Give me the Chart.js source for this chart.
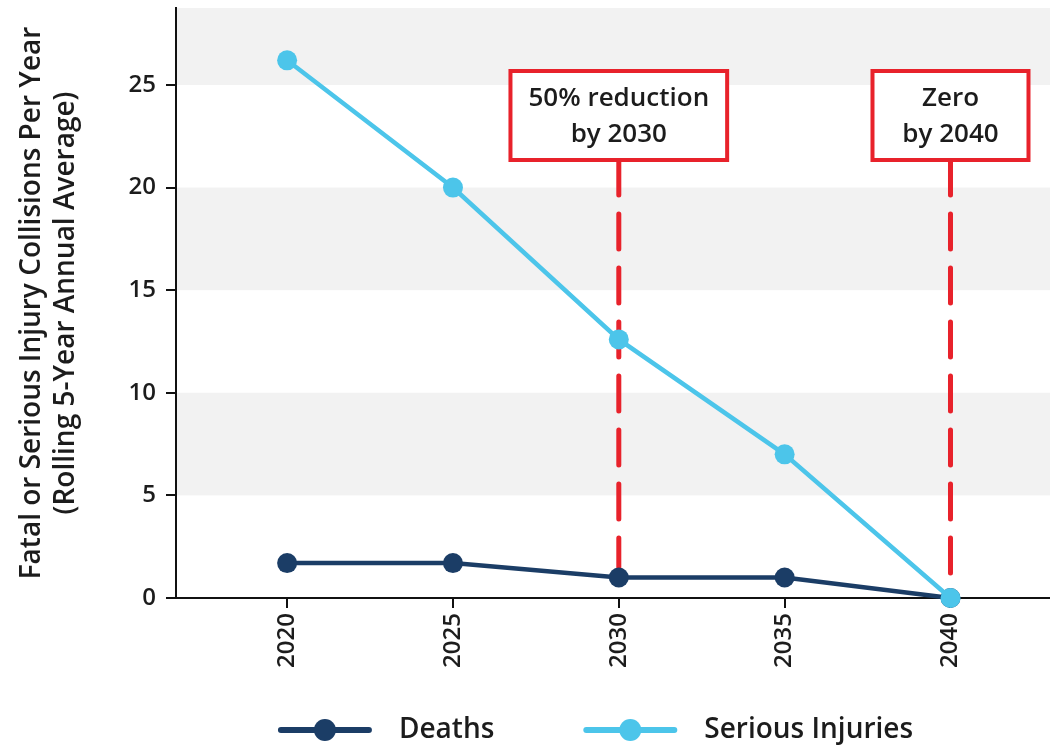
<!DOCTYPE html>
<html>
<head>
<meta charset="utf-8">
<script src="https://cdn.jsdelivr.net/npm/chart.js@4.4.0/dist/chart.umd.min.js"></script>
<style>
  html, body { margin: 0; padding: 0; background: #fff; }
  #wrap { width: 1050px; height: 748px; }
</style>
</head>
<body>
<div id="wrap"><canvas id="c" width="1050" height="748"></canvas></div>
<script>
// Years on the horizontal axis and the two series plotted against them
const years = [2020, 2025, 2030, 2035, 2040];
const deaths = [1.7, 1.7, 1.0, 1.0, 0];
const seriousInjuries = [26.2, 20.0, 12.6, 7.0, 0];
const yTicks = [0, 5, 10, 15, 20, 25];
const yTitle = ['Fatal or Serious Injury Collisions Per Year', '(Rolling 5-Year Annual Average)'];

// Target call-outs
const targetYears = [2030, 2040];
const targetLabels = [['50% reduction', 'by 2030'], ['Zero', 'by 2040']];

const FONT = '"Open Sans", "DejaVu Sans", sans-serif';
const TEXT = '#1c1c1c';
const NAVY = '#1b3d66';
const SKY = '#4cc5ea';
const RED = '#e8222b';

const toPoints = arr => years.map((yr, i) => ({ x: yr, y: arr[i] }));

// Alternating horizontal bands behind the plot
const bandPlugin = {
  id: 'bands',
  beforeDraw(chart) {
    const { ctx, chartArea: a, scales: { y } } = chart;
    ctx.save();
    ctx.fillStyle = '#f2f2f2';
    for (let i = 1; i < yTicks.length; i += 2) {
      const lo = yTicks[i];
      const hi = i + 1 < yTicks.length ? yTicks[i + 1] : y.max;
      const top = y.getPixelForValue(hi);
      const bot = y.getPixelForValue(lo);
      ctx.fillRect(a.left, top, a.right - a.left, bot - top);
    }
    ctx.restore();
  }
};

const BOX_TOP = 63;      // offset from chart area top
const BOX_H = 89;
const BOX_PAD = 18;
const BOX_MIN_W = 156;
const BOX_FONT = '600 26px ' + FONT;

function boxGeom(chart, i) {
  const { ctx, chartArea: a, scales: { x } } = chart;
  ctx.save();
  ctx.font = BOX_FONT;
  const textW = Math.max(...targetLabels[i].map(t => ctx.measureText(t).width));
  ctx.restore();
  const w = Math.max(BOX_MIN_W, textW + BOX_PAD * 2);
  const cx = x.getPixelForValue(targetYears[i]);
  return { cx, left: cx - w / 2, top: a.top + BOX_TOP, w, h: BOX_H };
}

// Dashed guides from each call-out down to the lowest series value in that year
const targetPlugin = {
  id: 'targets',
  beforeDatasetsDraw(chart) {
    const { ctx, scales: { y } } = chart;
    ctx.save();
    ctx.strokeStyle = RED;
    ctx.lineWidth = 5;
    ctx.lineCap = 'round';
    ctx.setLineDash([35, 19]);
    targetYears.forEach((yr, i) => {
      const g = boxGeom(chart, i);
      const idx = years.indexOf(yr);
      const low = Math.min(deaths[idx], seriousInjuries[idx]);
      ctx.beginPath();
      ctx.moveTo(g.cx, g.top + g.h);
      ctx.lineTo(g.cx, y.getPixelForValue(low));
      ctx.stroke();
    });
    ctx.restore();
  },
  afterDatasetsDraw(chart) {
    const { ctx } = chart;
    ctx.save();
    targetYears.forEach((yr, i) => {
      const g = boxGeom(chart, i);
      ctx.fillStyle = '#fff';
      ctx.fillRect(g.left, g.top, g.w, g.h);
      ctx.strokeStyle = RED;
      ctx.lineWidth = 4;
      ctx.setLineDash([]);
      ctx.strokeRect(g.left, g.top, g.w, g.h);
      ctx.fillStyle = TEXT;
      ctx.font = BOX_FONT;
      ctx.textAlign = 'center';
      ctx.textBaseline = 'middle';
      targetLabels[i].forEach((t, k) => {
        ctx.fillText(t, g.cx, g.top + 28 + k * 36);
      });
    });
    ctx.restore();
  }
};

// Line-and-marker legend under the axis
const legendPlugin = {
  id: 'lineLegend',
  afterDraw(chart) {
    const { ctx } = chart;
    const ds = [chart.data.datasets[1], chart.data.datasets[0]];
    ctx.save();
    ctx.font = '600 28px ' + FONT;
    const SW = 88, GAP_TXT = 30, GAP_ITEM = 92;
    const widths = ds.map(d => SW + GAP_TXT + ctx.measureText(d.label).width);
    const total = widths.reduce((s, w) => s + w, 0) + GAP_ITEM * (ds.length - 1);
    let x = 597 - total / 2;
    const yc = 730;
    ds.forEach((d, i) => {
      ctx.strokeStyle = d.borderColor;
      ctx.lineWidth = 6;
      ctx.lineCap = 'round';
      ctx.beginPath();
      ctx.moveTo(x, yc);
      ctx.lineTo(x + SW, yc);
      ctx.stroke();
      ctx.fillStyle = d.backgroundColor;
      ctx.beginPath();
      ctx.arc(x + SW / 2, yc, 11, 0, Math.PI * 2);
      ctx.fill();
      ctx.fillStyle = TEXT;
      ctx.textAlign = 'left';
      ctx.textBaseline = 'middle';
      ctx.fillText(d.label, x + SW + GAP_TXT, yc);
      x += widths[i] + GAP_ITEM;
    });
    ctx.restore();
  }
};

new Chart(document.getElementById('c'), {
  type: 'line',
  data: {
    datasets: [
      {
        label: 'Serious Injuries',
        data: toPoints(seriousInjuries),
        borderColor: SKY,
        backgroundColor: SKY,
        borderWidth: 4.5,
        pointRadius: 10,
        pointBorderWidth: 0,
        pointBackgroundColor: SKY,
        tension: 0,
        clip: false
      },
      {
        label: 'Deaths',
        data: toPoints(deaths),
        borderColor: NAVY,
        backgroundColor: NAVY,
        borderWidth: 4.5,
        pointRadius: 10,
        pointBorderWidth: 0,
        pointBackgroundColor: NAVY,
        tension: 0,
        clip: false
      }
    ]
  },
  options: {
    responsive: false,
    devicePixelRatio: 1,
    animation: false,
    layout: { autoPadding: false, padding: { top: 8, right: 0, bottom: 0, left: 0 } },
    plugins: {
      legend: { display: false },
      tooltip: { enabled: false }
    },
    scales: {
      x: {
        type: 'linear',
        min: 2016.65,
        max: 2043.0,
        afterBuildTicks: s => { s.ticks = years.map(v => ({ value: v })); },
        afterFit: s => { s.height = 150; s.paddingLeft = 0; s.paddingRight = 0; },
        ticks: {
          autoSkip: false,
          minRotation: 90,
          maxRotation: 90,
          padding: 5,
          color: TEXT,
          font: { family: FONT, size: 24, weight: '600' },
          callback: v => String(v)
        },
        grid: { drawOnChartArea: false, color: '#111', lineWidth: 2, tickLength: 10 },
        border: { color: '#111', width: 2 }
      },
      y: {
        min: 0,
        max: 28.75,
        afterBuildTicks: s => { s.ticks = yTicks.map(v => ({ value: v })); },
        afterFit: s => { s.width = 176; s.paddingTop = 0; s.paddingBottom = 0; },
        ticks: {
          padding: 10,
          color: TEXT,
          font: { family: FONT, size: 24, weight: '600' }
        },
        grid: { drawOnChartArea: false, color: '#111', lineWidth: 2, tickLength: 10 },
        border: { color: '#111', width: 2 },
        title: {
          display: true,
          text: yTitle,
          color: TEXT,
          font: { family: FONT, size: 28, weight: '600', lineHeight: 1.22 },
          padding: { top: 15, bottom: 0 }
        }
      }
    }
  },
  plugins: [bandPlugin, targetPlugin, legendPlugin]
});
</script>
</body>
</html>
